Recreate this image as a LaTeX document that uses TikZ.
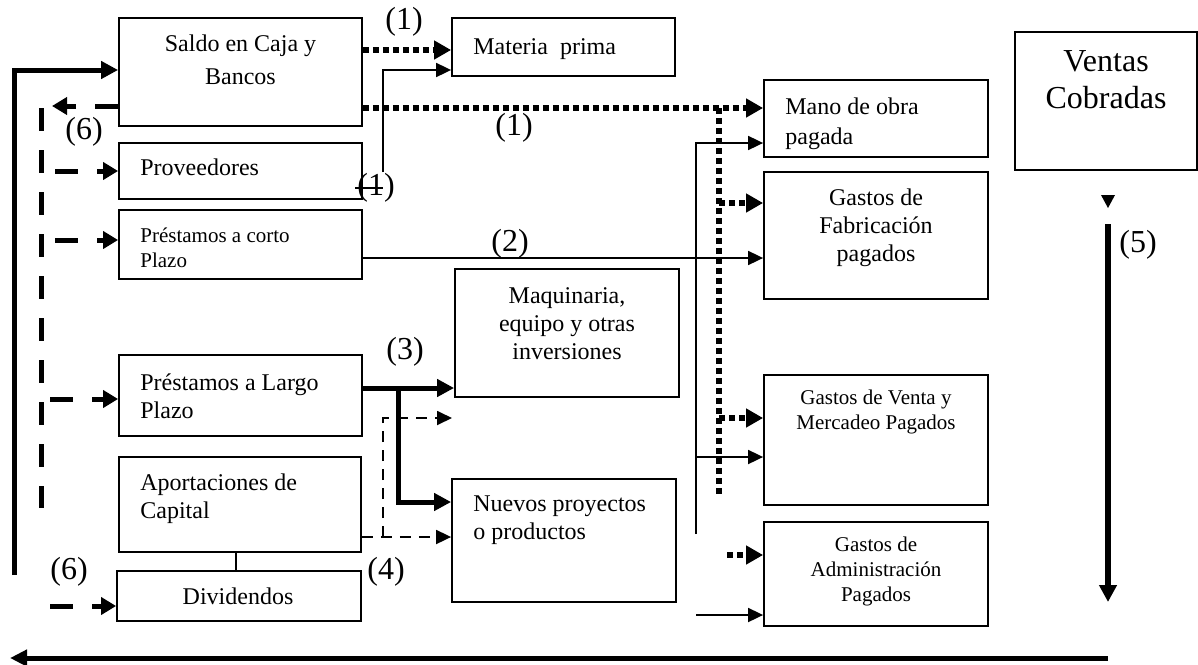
\documentclass[tikz,border=0pt]{standalone}
\usepackage{fontspec}
\setmainfont{Liberation Serif}
\usetikzlibrary{arrows.meta}

\begin{document}
\begin{tikzpicture}[x=0.5pt, y=-0.5pt,
    box/.style n args={2}{draw, line width=0.9pt, minimum width=#1*0.5pt, minimum height=#2*0.5pt, inner sep=0pt},
    txt/.style={inner sep=0pt, font=\fontsize{12}{14}\selectfont},
    smalltxt/.style={inner sep=0pt, font=\fontsize{10.5}{12.5}\selectfont},
    num/.style={inner sep=0pt, font=\fontsize{16}{18}\selectfont},
    fine/.style={line width=0.9pt, -{Triangle[length=7.5pt, width=7pt]}},
    finedash/.style={line width=0.9pt, dash pattern=on 5.5pt off 4pt, -{Triangle[length=7.5pt, width=7pt]}},
    heavy/.style={line width=2.5pt, -{Triangle[length=8.5pt, width=8.5pt]}},
    bigdash/.style={line width=2.5pt, dash pattern=on 11.5pt off 9.5pt, -{Triangle[length=7.5pt, width=8.5pt]}},
    dotline/.style={line width=3pt, dash pattern=on 3pt off 2pt, -{Triangle[length=8.5pt, width=9pt]}}
  ]
  \useasboundingbox (0,0) rectangle (1198,664);

  \node[box={243}{108}] (saldo) at (240.5,72) {};
  \node[txt, anchor=north, align=center, font=\fontsize{12}{16.5}\selectfont] (saldoT) at (240.5,34) {Saldo en Caja y\\Bancos};
  \node[box={223}{58}] (materia) at (563.5,47) {};
  \node[txt, anchor=north west] (materiaT) at (473,38) {Materia\ \ prima};
  \node[box={224}{77}] (mano) at (876,118.5) {};
  \node[txt, anchor=north west, align=left, font=\fontsize{12}{15}\selectfont] (manoT) at (785,97) {Mano de obra\\pagada};
  \node[box={224}{127}] (fab) at (876,235.5) {};
  \node[txt, anchor=north, align=center] (fabT) at (876,188) {Gastos de\\Fabricación\\pagados};
  \node[box={182}{138}] (ventas) at (1106,101) {};
  \node[txt, anchor=north, align=center, font=\fontsize{16}{18.5}\selectfont] (ventasT) at (1106,50) {Ventas\\Cobradas};
  \node[box={224}{130}] (venta) at (876,440) {};
  \node[smalltxt, anchor=north, align=center] (ventaT) at (876,390) {Gastos de Venta y\\Mercadeo Pagados};
  \node[box={224}{104}] (admin) at (876,574) {};
  \node[smalltxt, anchor=north, align=center] (adminT) at (876,537) {Gastos de\\Administración\\Pagados};

  \node[box={243}{56}] (prov) at (240.5,171) {};
  \node[txt, anchor=north west] (provT) at (140,158) {Proveedores};
  \node[box={243}{69}] (corto) at (240.5,244.5) {};
  \node[smalltxt, anchor=north west, align=left] (cortoT) at (140,227) {Préstamos a corto\\Plazo};
  \node[box={243}{81}] (largo) at (240.5,395.5) {};
  \node[txt, anchor=north west, align=left] (largoT) at (140,373) {Préstamos a Largo\\Plazo};
  \node[box={242}{95}] (aport) at (240,504.5) {};
  \node[txt, anchor=north west, align=left] (aportT) at (140,473) {Aportaciones de\\Capital};
  \node[box={244}{50}] (divid) at (239,596) {};
  \node[txt, anchor=north] (dividT) at (238,587) {Dividendos};
  \node[box={224}{128}] (maq) at (567,333) {};
  \node[txt, anchor=north, align=center] (maqT) at (567,287) {Maquinaria,\\equipo y otras\\inversiones};
  \node[box={224}{123}] (nuevos) at (564,540.5) {};
  \node[txt, anchor=north west, align=left] (nuevosT) at (473,495) {Nuevos proyectos\\o productos};

  \node[num] (n1a) at (404,22) {(1)};
  \node[num] (n1b) at (514,128) {(1)};
  \node[num] (n1c) at (376,188) {(1)};
  \node[num] (n2) at (510,244) {(2)};
  \node[num] (n3) at (405,352) {(3)};
  \node[num] (n4) at (386,572) {(4)};
  \node[num] (n5) at (1138,245) {(5)};
  \node[num] (n6a) at (84,132) {(6)};
  \node[num] (n6b) at (69,572) {(6)};

  \coordinate (backL) at (14,575);
  \coordinate (backR) at (52,106);
  \coordinate (dashTop) at (41,108);
  \coordinate (dashBot) at (41,508);
  \coordinate (dotTop) at (719,108);
  \coordinate (dotBot) at (719,495);
  \coordinate (provL) at (383,172);
  \coordinate (payTop) at (696,143);
  \coordinate (payBot) at (696,534);
  \coordinate (capEnd) at (452,418);
  \coordinate (salesTop) at (1108,224);
  \coordinate (salesBot) at (1108,602);
  \coordinate (cashR) at (1108,658);
  \coordinate (cashEnd) at (10,658);

  \draw[heavy] (backL) -- (14,70) -- (saldo.west |- 0,70);
  \draw[bigdash] (saldo.west |- 0,106) -- (backR);
  \draw[bigdash, -] (dashTop) -- (dashBot);
  \foreach \x/\y/\n in {55/171/prov, 55/240/corto, 50/399/largo, 50/606/divid}
    \draw[bigdash] (\x,\y) -- (\n.west |- 0,\y);

  \draw[dotline] (saldo.east |- 0,50) -- (materia.west |- 0,50);
  \draw[dotline] (saldo.east |- 0,108) -- (mano.west |- 0,108);
  \draw[dotline, -] (dotTop) -- (dotBot);
  \foreach \x/\y/\n in {719/203/fab, 719/418/venta, 727/555/admin}
    \draw[dotline] (\x,\y) -- (\n.west |- 0,\y);

  \draw[fine] (provL) -- (383,70) -- (materia.west |- 0,70);
  \draw[line width=0.9pt] (355,188) -- (383,188);
  \draw[fine] (corto.east |- 0,258) -- (fab.west |- 0,258);
  \draw[fine] (payBot) -- (payTop) -- (mano.west |- payTop);
  \draw[fine] (696,457) -- (venta.west |- 0,457);
  \draw[fine] (696,615) -- (admin.west |- 0,615);

  \draw[heavy] (largo.east |- 0,388) -- (maq.west |- 0,388);
  \draw[heavy] (398,388) -- (398,502) -- (nuevos.west |- 0,502);
  \draw[finedash] (aport.east |- 0,537) -- (nuevos.west |- 0,537);
  \draw[finedash] (383,537) -- (383,418) -- (capEnd);
  \draw[line width=0.9pt] (aport.south -| 236,0) -- (divid.north -| 236,0);

  \fill (1101,195) -- (1115,195) -- (1108,208) -- cycle;
  \draw[line width=3pt, -{Triangle[length=8.5pt, width=8.5pt]}] (salesTop) -- (salesBot);
  \draw[line width=2.5pt, -{Triangle[length=8.5pt, width=8pt]}] (cashR) -- (cashEnd);
\end{tikzpicture}
\end{document}
